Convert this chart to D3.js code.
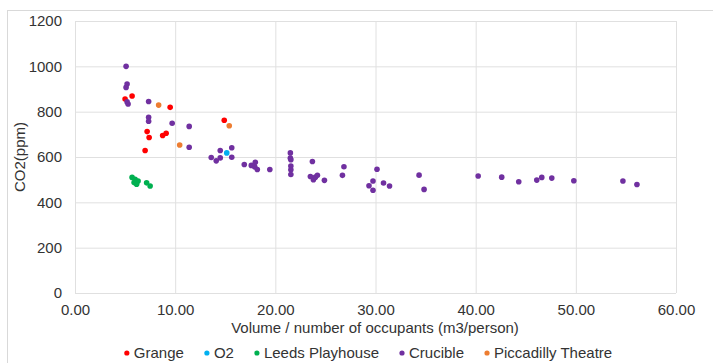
<!DOCTYPE html>
<html><head><meta charset="utf-8">
<script src="https://cdn.jsdelivr.net/npm/d3@7/dist/d3.min.js"></script>
<style>body{margin:0;background:#fff;}svg{display:block;font-family:"Liberation Sans",Arial,sans-serif;}</style>
</head><body><svg id="c" width="713" height="363"></svg>
<script>
const seriesNames = ["Grange","O2","Leeds Playhouse","Crucible","Piccadilly Theatre"];
const seriesColors = ["#ff0000","#00b0f0","#00b050","#7030a0","#ed7d31"];
const grange = [[5.0,856],[5.7,869],[9.5,819],[7.2,712],[7.4,686],[8.75,695],[9.1,705],[7.0,629],[14.9,762]];
const o2 = [[15.15,618]];
const leeds = [[5.7,510],[6.0,502],[6.3,494],[5.9,487],[6.15,480],[7.15,486],[7.5,472]];
const crucible = [[5.1,1000],[5.2,922],[5.1,907],[5.2,843],[5.3,834],[7.35,845],[7.35,775],[7.35,758],[9.7,749],[11.4,735],[11.4,643],
[13.6,598],[14.1,583],[14.5,629],[14.5,596],[15.65,641],[15.65,599],[16.9,567],[17.6,563],[18.0,577],[17.95,556],[18.2,545],[19.45,545],
[21.5,618],[21.5,595],[21.55,588],[21.55,560],[21.55,544],[21.55,523],
[23.7,580],[23.5,514],[23.8,500],[24.0,511],[24.2,519],[24.9,497],
[26.7,519],[26.85,557],[29.35,473],[29.75,494],[29.75,453],[30.15,546],[30.8,485],[31.4,472],[34.35,520],[34.85,457],
[40.25,516],[42.6,511],[44.3,491],[46.1,498],[46.6,510],[47.6,507],[49.8,495],[54.7,494],[56.1,479]];
const piccadilly = [[8.35,829],[10.45,653],[15.4,738]];
const seriesData = [grange,o2,leeds,crucible,piccadilly];
const xTicks = [0,10,20,30,40,50,60];
const yTicks = [0,200,400,600,800,1000,1200];
const xTitle = "Volume / number of occupants (m3/person)";
const yTitle = "CO2(ppm)";

const svg = d3.select("#c");
const grid = "#e0e0e0";
const txt = "#333333";
const fs = "15px";
svg.append("rect").attr("x",7.5).attr("y",10.5).attr("width",760).attr("height",420)
  .attr("fill","none").attr("stroke","#d9d9d9");

const x = d3.scaleLinear().domain([0,60]).range([75,676]);
const y = d3.scaleLinear().domain([0,1200]).range([293,21]);

const gx = svg.append("g").attr("transform","translate(0,293)")
  .call(d3.axisBottom(x).tickValues(xTicks).tickFormat(d3.format(".2f")).tickSize(-272).tickPadding(11));
gx.select(".domain").remove();
gx.selectAll("line").attr("stroke",grid);
gx.selectAll("text").attr("font-size",fs).attr("fill",txt).attr("font-family","Liberation Sans, Arial, sans-serif");

const gy = svg.append("g").attr("transform","translate(75,0)")
  .call(d3.axisLeft(y).tickValues(yTicks).tickFormat(d3.format("d")).tickSize(-601).tickPadding(13));
gy.select(".domain").remove();
gy.selectAll("line").attr("stroke",grid);
gy.selectAll("text").attr("font-size",fs).attr("fill",txt).attr("font-family","Liberation Sans, Arial, sans-serif");

seriesData.forEach((data,i)=>{
  svg.append("g").selectAll("circle").data(data).join("circle")
    .attr("cx",d=>x(d[0])).attr("cy",d=>y(d[1])).attr("r",2.8)
    .attr("fill",seriesColors[i]);
});

svg.append("text").attr("x",375).attr("y",333).attr("text-anchor","middle")
  .attr("font-size",fs).attr("fill",txt).text(xTitle);
svg.append("text").attr("transform","translate(25,157) rotate(-90)").attr("text-anchor","middle")
  .attr("font-size",fs).attr("fill",txt).text(yTitle);

// legend
const lg = svg.append("g");
let lx = 0;
const gap = 20;
seriesNames.forEach((n,i)=>{
  const g = lg.append("g").attr("transform",`translate(${lx},0)`);
  g.append("circle").attr("cx",3).attr("cy",-5).attr("r",2.6).attr("fill",seriesColors[i]);
  const t = g.append("text").attr("x",10).attr("y",0).attr("font-size",fs).attr("fill",txt).text(n);
  lx += 10 + t.node().getComputedTextLength() + gap;
});
const totalW = lx - gap;
lg.attr("transform",`translate(${368 - totalW/2},358)`);
</script></body></html>
